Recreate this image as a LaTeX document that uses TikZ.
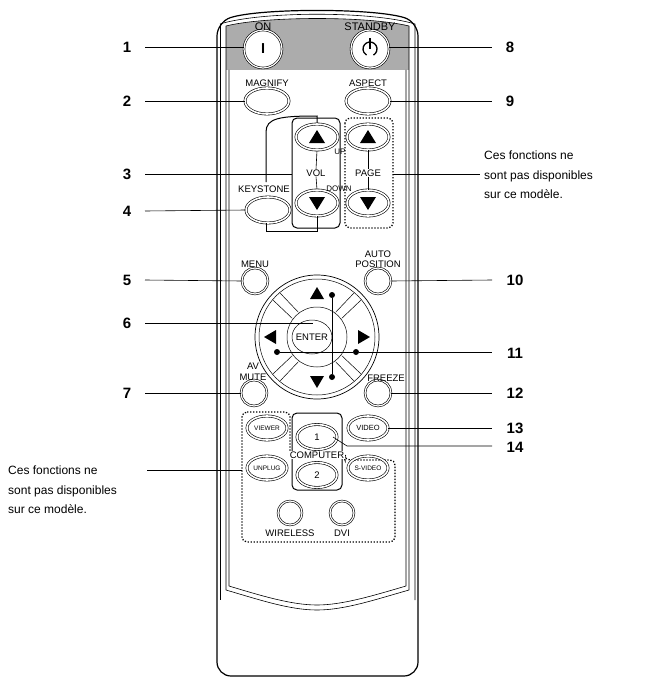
\documentclass[tikz,border=0pt]{standalone}
\usepackage{fontspec}
\setmainfont{Liberation Sans}
\usetikzlibrary{shapes.geometric,calc}
\begin{document}
\begin{tikzpicture}[x=1pt,y=-1pt,
  lbl/.style={font=\fontsize{9.5}{10.5}\selectfont, inner sep=0pt},
  num/.style={font=\fontsize{15}{15}\bfseries\selectfont, inner sep=0pt},
  note/.style={font=\fontsize{12}{19.5}\selectfont, align=left, inner sep=0pt, anchor=west},
  obtn/.style={ellipse, draw, line width=0.6pt, double=white, double distance=1.6pt, minimum width=#1, minimum height=26pt, inner sep=0pt},
  cbtn/.style={circle, draw, line width=0.6pt, double=white, double distance=1.2pt, minimum size=#1, inner sep=0pt},
  small/.style={font=\fontsize{6.5}{6.5}\selectfont},
  cl/.style={line width=0.6pt},
  dot/.style={circle, fill, inner sep=0pt, minimum size=6pt},
  dotted box/.style={line width=1.3pt, dash pattern=on 1.3pt off 1.7pt, rounded corners=5pt}
]
\useasboundingbox (0,0) rectangle (650,677);
% body
\draw[line width=1.2pt, rounded corners=14pt] (217,22) .. controls (260,8) and (374,8) .. (418,22) -- (418,676) -- (217,676) -- cycle;
\draw[line width=0.6pt] (220,24) .. controls (262,11) and (372,11) .. (415,24) -- (415,600);
\draw[line width=0.6pt] (220,24) -- (220,600);
\fill[gray!65] (226,26) .. controls (266,16) and (368,16) .. (409,26) -- (409,70) -- (226,70) -- cycle;
\draw[line width=0.6pt] (226,26) .. controls (266,16) and (368,16) .. (409,26);
\draw[line width=0.6pt] (226,26) -- (226,590) .. controls (260,600) and (290,610) .. (317,610) .. controls (344,610) and (374,600) .. (409,590) -- (409,26);
\draw[line width=0.6pt] (229,70) -- (229,586) .. controls (262,596) and (292,605) .. (317,605) .. controls (342,605) and (372,596) .. (406,586) -- (406,70);
% power
\node[cbtn=38pt, fill=white] (on) at (263,49) {\bfseries\Large I};
\node[cbtn=38pt, fill=white] (sb) at (370,49) {};
\draw[line width=1.3pt] ($(sb.center)+(60:7)$) arc[start angle=-60, end angle=240, radius=7pt];
\draw[line width=1.3pt] (sb.center) -- ++(0,-11);
\node[lbl, font=\fontsize{11}{11}\selectfont] (onl) at (263,27) {ON};
\node[lbl, font=\fontsize{11}{11}\selectfont] (sbl) at (370,27) {STANDBY};
% magnify / aspect
\node[obtn=44pt] (mag) at (267,101) {};
\node[obtn=44pt] (asp) at (368,101) {};
\node[lbl] (magl) at (267,83) {MAGNIFY};
\node[lbl] (aspl) at (368,83) {ASPECT};
% vol / page
\draw[line width=1pt, rounded corners=5pt] (292,118) rectangle (340,228);
\draw[dotted box] (345,118) rectangle (393,228);
\node[obtn=42pt] (vu) at (317,137) {};
\node[obtn=42pt] (vd) at (317,203) {};
\node[obtn=42pt] (pu) at (368,137) {};
\node[obtn=42pt] (pd) at (368,203) {};
\foreach \n in {vu,pu} \fill (\n.center) ++(0,-7) -- ++(8,13) -- ++(-16,0) -- cycle;
\foreach \n in {vd,pd} \fill (\n.center) ++(0,7) -- ++(8,-13) -- ++(-16,0) -- cycle;
\node[lbl] (vol) at (316,173) {VOL};
\node[lbl] (page) at (368,173) {PAGE};
\node[lbl, font=\fontsize{8}{8}\selectfont] (up) at (340,152) {UP};
\node[lbl, font=\fontsize{8}{8}\selectfont] (down) at (339,189) {DOWN};
\draw[cl] (vu.south) -- (vol.north); \draw[cl] (vol.south) -- (vd.north);
\draw[cl] (pu.south) -- (page.north); \draw[cl] (page.south) -- (pd.north);
% keystone
\node[obtn=44pt] (key) at (268,210) {};
\node[lbl] (keyl) at (264,189) {KEYSTONE};
\draw[line width=1pt] (266,182) -- (266,132) .. controls (266,118) and (280,116) .. (317,116) -- (317,123);
\draw[line width=1pt] (266,223) -- (266,231) -- (317,231) -- (317,216);
% menu etc
\node[cbtn=26pt] (menu) at (255,281) {};
\node[lbl] at (255,264) {MENU};
\node[cbtn=26pt] (auto) at (378,281) {};
\node[lbl, align=center] at (378,259) {AUTO\\POSITION};
\node[cbtn=26pt] (av) at (254,393) {};
\node[lbl, align=center] at (253,372) {AV\\MUTE};
\node[cbtn=26pt] (frz) at (378,393) {};
\node[lbl] at (386,378) {FREEZE};
% direction ring
\draw[line width=0.7pt] (317,337) circle (62);
\draw[line width=0.5pt] (317,337) circle (58);
\draw[line width=0.5pt] (317,337) circle (30);
\node[ellipse, draw, line width=0.5pt, minimum width=40pt, minimum height=34pt, inner sep=0pt] (enter) at (312,337) {};
\node[lbl] at (312,337) {ENTER};
\foreach \a in {45,135,225,315} {
  \draw[line width=0.5pt] ($(317,337)+(\a+8:31)$) -- ($(317,337)+(\a+5:57)$);
  \draw[line width=0.5pt] ($(317,337)+(\a-8:31)$) -- ($(317,337)+(\a-5:57)$);
}
\fill (317,287) -- (324,299) -- (310,299) -- cycle;
\fill (317,388) -- (324,376) -- (310,376) -- cycle;
\fill (264,337) -- (276,330) -- (276,344) -- cycle;
\fill (370,337) -- (358,330) -- (358,344) -- cycle;
\node[dot] (du) at (332,295) {};
\node[dot] (dd) at (332,377) {};
\node[dot] (dl) at (277,352) {};
\node[dot] (dr) at (356,352) {};
\draw[line width=0.8pt] (du) -- (dd);
% lower
\draw[line width=1pt, rounded corners=5pt] (292,413) rectangle (342,490);
\draw[dotted box] (242,412) -- (290,412) -- (290,455) -- (345,455) -- (345,460) -- (395,460) -- (395,542) -- (242,542) -- cycle;
\node[obtn=40pt, minimum height=24pt] (view) at (267,428) {};
\node[lbl, small] at (267,428) {VIEWER};
\node[obtn=40pt, minimum height=24pt] (video) at (368,428) {};
\node[lbl, font=\fontsize{7.5}{7.5}\selectfont] at (368,428) {VIDEO};
\node[obtn=40pt, minimum height=24pt] (unp) at (267,468) {};
\node[lbl, small] at (267,468) {UNPLUG};
\node[obtn=40pt, minimum height=24pt] (sv) at (368,468) {};
\node[lbl, small] at (368,468) {S-VIDEO};
\node[obtn=40pt, minimum height=25pt] (c1) at (317,437) {};
\node[lbl] at (317,437) {1};
\node[obtn=40pt, minimum height=25pt] (c2) at (317,475) {};
\node[lbl] at (317,475) {2};
\node[lbl, fill=white, inner sep=0.5pt] at (317,455) {COMPUTER};
\node[cbtn=24pt] (wl) at (290,513) {};
\node[cbtn=24pt] (dvi) at (342,513) {};
\node[lbl] at (290,533) {WIRELESS};
\node[lbl] at (342,533) {DVI};
% callouts left
\node[num] (n1) at (127,47) {1};
\node[num] (n2) at (127,101) {2};
\node[num] (n3) at (127,174) {3};
\node[num] (n4) at (127,211) {4};
\node[num] (n5) at (127,280) {5};
\node[num] (n6) at (127,323) {6};
\node[num] (n7) at (127,393) {7};
\coordinate (e3) at (292,174);
\coordinate (e6) at (313,323);
\draw[cl] (145,47) -- (on.west |- 0,47);
\draw[cl] (145,101) -- (mag.west);
\draw[cl] (145,174) -- (e3);
\draw[cl] (145,211) -- (key.west);
\draw[cl] (145,280) -- (menu.west);
\draw[cl] (145,323) -- (e6);
\draw[cl] (145,393) -- (av.west);
% right
\node[num] (n8) at (510,47) {8};
\node[num] (n9) at (510,101) {9};
\node[num] (n10) at (515,280) {10};
\node[num] (n11) at (515,353) {11};
\node[num] (n12) at (515,393) {12};
\node[num] (n13) at (515,428) {13};
\node[num] (n14) at (515,447) {14};
\draw[cl] (sb.east |- 0,47) -- (492,47);
\draw[cl] (asp.east) -- (492,101);
\draw[cl] (auto.east) -- (492,280);
\draw[line width=0.8pt] (dl) -- (dr) -- (492,352);
\draw[cl] (frz.east) -- (492,393);
\draw[cl] (video.east) -- (492,428);
\coordinate (k14) at (347,446);
\draw[cl] (333,437) -- (k14) -- (492,446);
% notes
\coordinate (pn) at (480,174);
\draw[cl] (393,174) -- (pn);
\node[note] at (484,175) {Ces fonctions ne\\sont pas disponibles\\sur ce modèle.};
\draw[cl] (147,470) -- (242,470);
\node[note] at (8,490) {Ces fonctions ne\\sont pas disponibles\\sur ce modèle.};
\end{tikzpicture}
\end{document}
